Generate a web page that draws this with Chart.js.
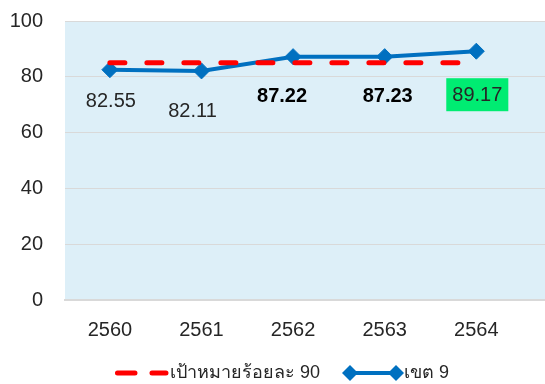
<!DOCTYPE html>
<html>
<head>
<meta charset="utf-8">
<script src="https://cdn.jsdelivr.net/npm/chart.js@4"></script>
<style>
html,body{margin:0;padding:0;background:#fff;}
#wrap{width:545px;height:384px;position:relative;}
</style>
</head>
<body>
<div id="wrap"><canvas id="c" width="545" height="384"></canvas></div>
<script>
const years = ['2560', '2561', '2562', '2563', '2564'];
const targetValues = [85, 85, 85, 85, 85];
const regionValues = [82.55, 82.11, 87.22, 87.23, 89.17];
const labelTexts = ['82.55', '82.11', '87.22', '87.23', '89.17'];
const yTicks = [0, 20, 40, 60, 80, 100];
const seriesNames = ['เป้าหมายร้อยละ 90', 'เขต 9'];

const FONT = '"Liberation Sans", Arial, "Noto Sans", sans-serif';
const TEXT = '#262626';

// label styling / placement (layout only)
const labelDX = [1, -9, -11, 3, 1];
const labelDY = [32, 41, 40, 40, 44];
const labelBold = [false, false, true, true, false];
const labelBox = [null, null, null, null, '#00ec72'];

const bgPlugin = {
  id: 'bg',
  beforeDraw(chart) {
    const {ctx, chartArea: a} = chart;
    ctx.save();
    ctx.fillStyle = '#ddeff8';
    ctx.fillRect(a.left, a.top, a.right - a.left, a.bottom - a.top);
    ctx.restore();
  }
};

const labelPlugin = {
  id: 'labels',
  afterDatasetsDraw(chart) {
    const {ctx} = chart;
    const meta = chart.getDatasetMeta(1);
    ctx.save();
    meta.data.forEach((pt, i) => {
      const x = pt.x + labelDX[i];
      const y = pt.y + labelDY[i];
      ctx.font = (labelBold[i] ? 'bold ' : '') + '20px ' + FONT;
      ctx.textAlign = 'center';
      ctx.textBaseline = 'middle';
      if (labelBox[i]) {
        const w = ctx.measureText(labelTexts[i]).width;
        ctx.fillStyle = labelBox[i];
        ctx.fillRect(x - w / 2 - 6, y - 17, w + 12, 33);
      }
      ctx.fillStyle = labelBold[i] ? '#000' : TEXT;
      ctx.fillText(labelTexts[i], x, y);
    });
    ctx.restore();
  }
};

const legendPlugin = {
  id: 'customLegend',
  afterDraw(chart) {
    const {ctx} = chart;
    const y = 373;
    ctx.save();
    ctx.font = '18px ' + FONT;
    ctx.textBaseline = 'middle';
    const w0 = ctx.measureText(seriesNames[0]).width;
    const w1 = ctx.measureText(seriesNames[1]).width;
    const sym0 = 55, sym1 = 64, gap = 20;
    const total = sym0 + w0 + gap + sym1 + w1;
    let x = 282 - total / 2;
    // red dashed symbol
    ctx.strokeStyle = '#ff0000';
    ctx.lineWidth = 5;
    ctx.lineCap = 'round';
    ctx.beginPath();
    ctx.moveTo(x + 2.5, y); ctx.lineTo(x + 20, y);
    ctx.moveTo(x + 37, y); ctx.lineTo(x + 51, y);
    ctx.stroke();
    ctx.fillStyle = TEXT;
    ctx.textAlign = 'left';
    ctx.fillText(seriesNames[0], x + sym0, y);
    x += sym0 + w0 + gap;
    // blue line + diamonds
    ctx.strokeStyle = '#0070c0';
    ctx.lineWidth = 4;
    ctx.lineCap = 'butt';
    ctx.beginPath();
    ctx.moveTo(x + 10, y); ctx.lineTo(x + 56, y);
    ctx.stroke();
    ctx.fillStyle = '#0070c0';
    [x + 10, x + 56].forEach(cx => {
      ctx.beginPath();
      ctx.moveTo(cx, y - 8); ctx.lineTo(cx + 8, y); ctx.lineTo(cx, y + 8); ctx.lineTo(cx - 8, y);
      ctx.closePath(); ctx.fill();
    });
    ctx.fillStyle = TEXT;
    ctx.fillText(seriesNames[1], x + sym1, y);
    ctx.restore();
  }
};

new Chart(document.getElementById('c'), {
  type: 'line',
  data: {
    datasets: [
      {
        label: seriesNames[0],
        data: targetValues.map((v, i) => ({x: i, y: v})),
        borderColor: '#ff0000',
        borderWidth: 5,
        borderDash: [15, 22],
        borderCapStyle: 'round',
        pointRadius: 0,
        pointHoverRadius: 0,
        fill: false,
        order: 0
      },
      {
        label: seriesNames[1],
        data: regionValues.map((v, i) => ({x: i, y: v})),
        borderColor: '#0070c0',
        backgroundColor: '#0070c0',
        borderWidth: 4,
        pointStyle: 'rectRot',
        pointRadius: 8,
        pointBorderWidth: 1,
        pointBorderColor: '#0070c0',
        pointBackgroundColor: '#0070c0',
        fill: false,
        order: 1
      }
    ]
  },
  options: {
    responsive: false,
    animation: false,
    layout: {autoPadding: false, padding: {top: 21, right: 0, left: 0, bottom: 0}},
    plugins: {legend: {display: false}, tooltip: {enabled: false}},
    scales: {
      x: {
        type: 'linear',
        min: -0.49,
        max: 4.75,
        afterBuildTicks(scale) { scale.ticks = years.map((_, i) => ({value: i})); },
        afterFit(scale) { scale.height = 84; scale.paddingLeft = 0; scale.paddingRight = 0; },
        grid: {display: false, drawTicks: false},
        border: {display: true, color: '#d9d9d9', width: 2},
        ticks: {
          padding: 18,
          color: TEXT,
          font: {family: FONT, size: 20},
          callback: (v) => years[v] !== undefined ? years[v] : ''
        }
      },
      y: {
        min: 0,
        max: 100,
        afterBuildTicks(scale) { scale.ticks = yTicks.map(v => ({value: v})); },
        afterFit(scale) { scale.width = 65; scale.paddingTop = 0; scale.paddingBottom = 0; },
        grid: {color: '#d9d9d9', lineWidth: 1, drawTicks: false},
        border: {display: false},
        ticks: {
          padding: 22,
          color: TEXT,
          font: {family: FONT, size: 20}
        }
      }
    }
  },
  plugins: [bgPlugin, labelPlugin, legendPlugin]
});
</script>
</body>
</html>
